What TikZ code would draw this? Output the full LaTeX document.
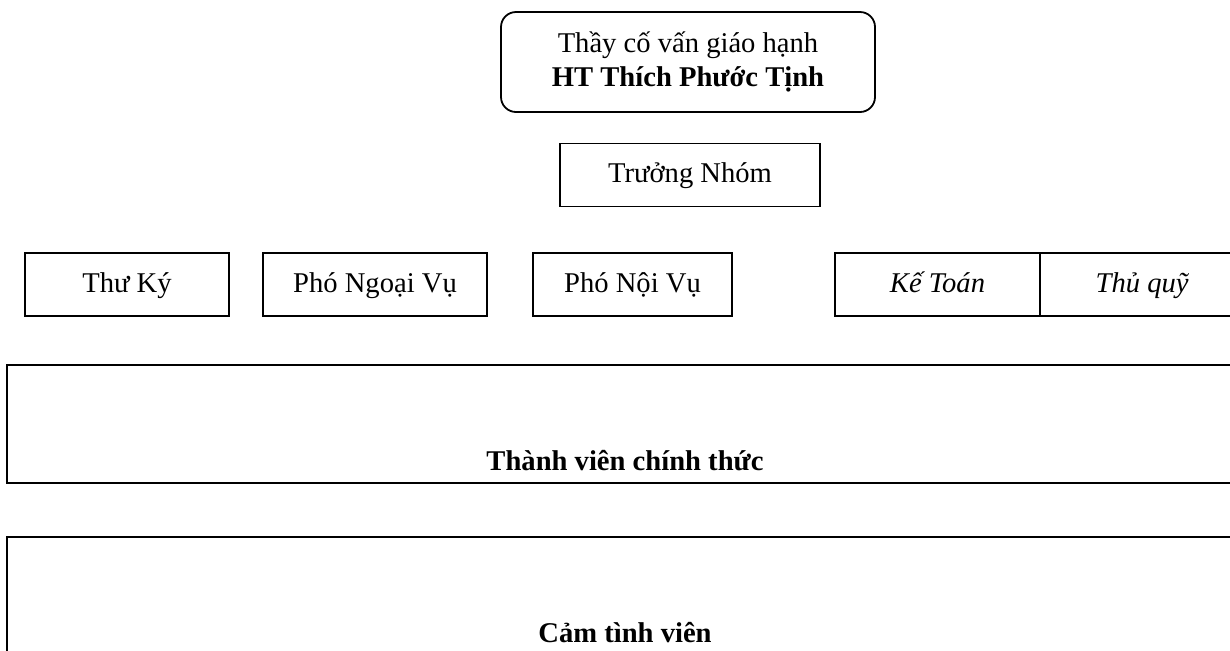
\documentclass[tikz,border=0pt]{standalone}
\usepackage{fontspec}
\setmainfont{Liberation Serif}

\begin{document}
\begin{tikzpicture}[x=0.5pt,y=-0.5pt,
  every node/.style={font=\fontsize{14.3}{17}\selectfont},
  hop/.style={draw,line width=0.9pt,minimum height=31.5pt,inner sep=0pt,text height=10.5pt,text depth=3pt},
  khung/.style={draw,line width=0.9pt,minimum width=618pt,minimum height=59pt,inner sep=0pt}]

\useasboundingbox (0,0) rectangle (1230,650);
\clip (0,0) rectangle (1230,650);

%thay co van
\node[draw,line width=0.9pt,rounded corners=7.5pt,minimum width=187pt,minimum height=50pt,align=center] (covan) at (688,62) {Thầy cố vấn giáo hạnh\\\textbf{HT Thích Phước Tịnh}};

\node[hop,minimum width=130pt] (truongnhom) at (690,175) {Trưởng Nhóm};

%hang ban
\node[hop,minimum width=102pt] (thuky) at (127,284.5) {Thư Ký};
\node[hop,minimum width=112pt] (ngoaivu) at (375,284.5) {Phó Ngoại Vụ};
\node[hop,minimum width=99.5pt] (noivu) at (632.5,284.5) {Phó Nội Vụ};
\node[hop,minimum width=102.5pt] (ketoan) at (937.5,284.5) {\textit{Kế Toán}};
\node[hop,minimum width=102.5pt] (thuquy) at (1142.5,284.5) {\textit{Thủ quỹ}};

%thanh vien
\node[khung] (chinhthuc) at (625,424) {};
\node[anchor=base] (chinhthuclabel) at (625,470) {\textbf{Thành viên chính thức}};

\node[khung] (camtinh) at (625,596) {};
\node[anchor=base] (camtinhlabel) at (625,642) {\textbf{Cảm tình viên}};

\end{tikzpicture}
\end{document}
